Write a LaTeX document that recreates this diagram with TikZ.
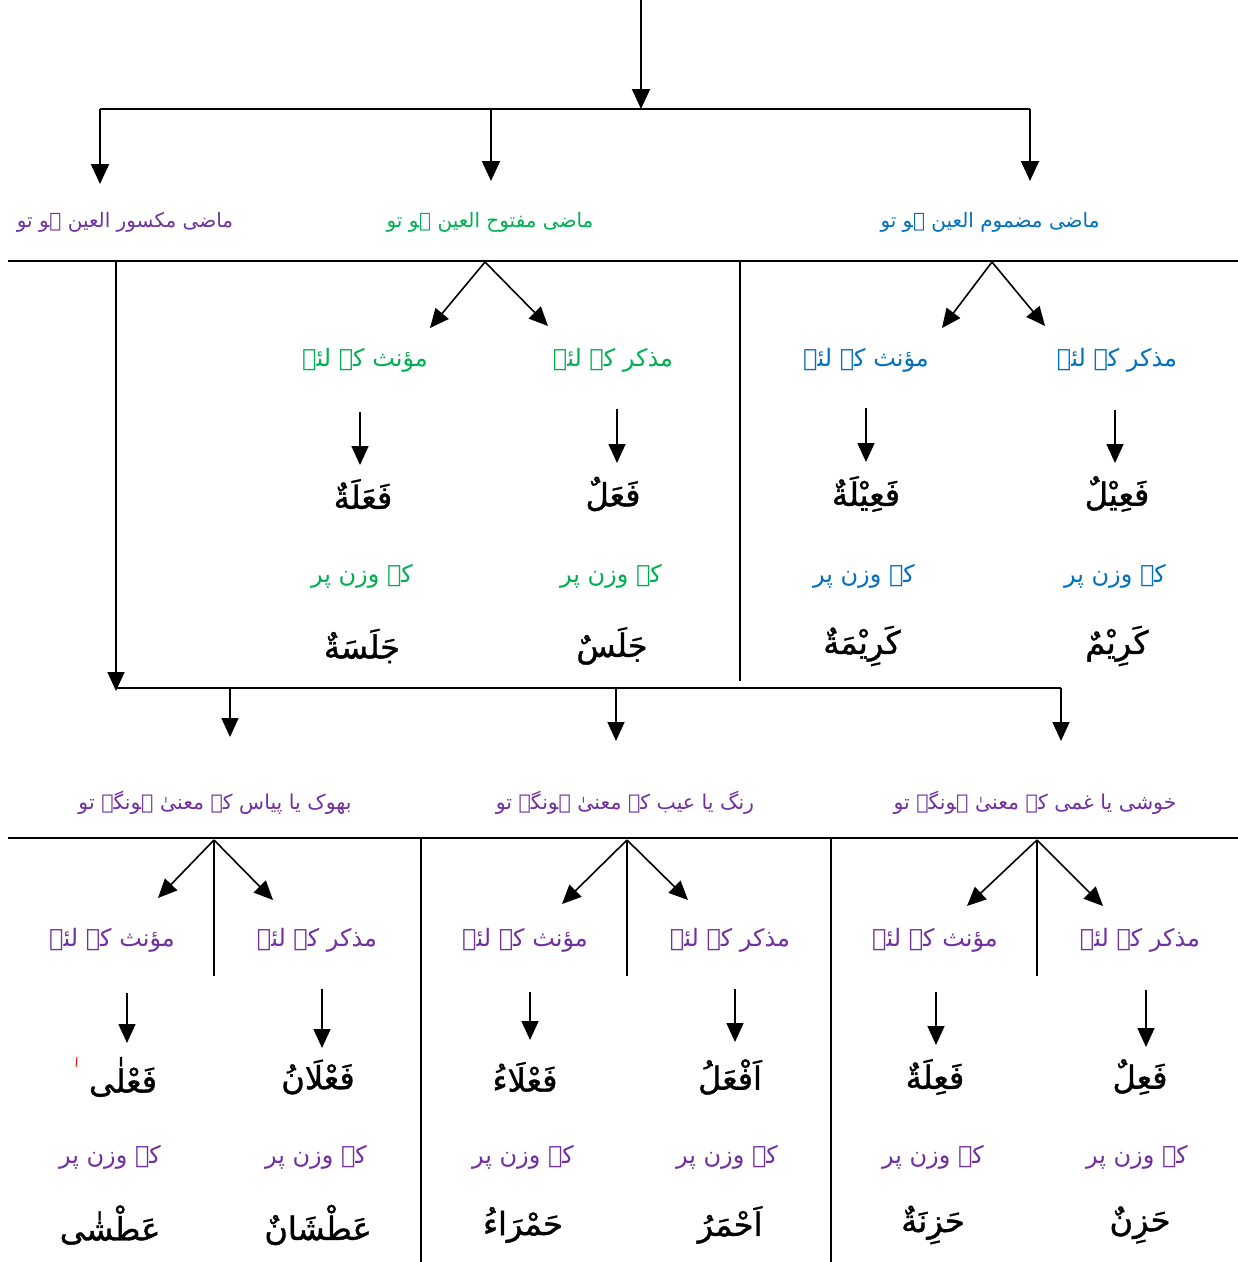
\documentclass[tikz,border=0pt]{standalone}
\usepackage{fontspec}
\usetikzlibrary{arrows.meta}
\newfontfamily\arabicfont[Script=Arabic]{DejaVu Sans}
\newfontfamily\waznfont[Script=Arabic,FakeBold=1.2]{DejaVu Sans}
\TeXXeTstate=1
\definecolor{urdupurple}{HTML}{7030A0}
\definecolor{urdugreen}{HTML}{00B050}
\definecolor{urdublue}{HTML}{0070C0}
\newcommand{\rl}[1]{\beginR #1\endR}

\tikzset{
  headtext/.style={font=\arabicfont\fontsize{20}{24}\selectfont, inner sep=0pt},
  subtext/.style={font=\arabicfont\fontsize{24}{28}\selectfont, inner sep=0pt},
  ontext/.style={font=\arabicfont\fontsize{24}{28}\selectfont, inner sep=0pt},
  wazntext/.style={font=\waznfont\fontsize{32}{38}\selectfont, inner sep=0pt, text=black},
  bartext/.style={font=\arabicfont\fontsize{20.5}{24}\selectfont, inner sep=0pt},
  rule/.style={line width=2.4pt, black},
  stem/.style={line width=1.8pt, black},
  arr/.style={line width=1.6pt, black, -{Triangle[length=19pt,width=17pt]}},
  bigarr/.style={line width=2pt, black, -{Triangle[length=20pt,width=18pt]}},
}

\begin{document}
\begin{tikzpicture}[x=1pt,y=-1pt]
\useasboundingbox (0,0) rectangle (1238,1262);

% ---------------- upper part ----------------
\coordinate (src) at (641,0);
\coordinate (hub) at (641,109);
\coordinate (hubL) at (100,109);
\coordinate (hubM) at (491,109);
\coordinate (hubR) at (1030,109);
\coordinate (inL) at (100,184);
\coordinate (inM) at (491,181);
\coordinate (inR) at (1030,181);

\draw[bigarr] (src) -- (hub);
\draw[rule] (hubL) -- (hubR);
\draw[bigarr] (hubL) -- (inL);
\draw[bigarr] (hubM) -- (inM);
\draw[bigarr] (hubR) -- (inR);

\node[headtext, text=urdupurple] (hKasr) at (125,222) {\rl{ماضی مکسور العین ہو تو}};
\node[headtext, text=urdugreen]  (hFath) at (490,222) {\rl{ماضی مفتوح العین ہو تو}};
\node[headtext, text=urdublue]   (hDamm) at (990,222) {\rl{ماضی مضموم العین ہو تو}};

\coordinate (ruleAL) at (8,261);
\coordinate (ruleAR) at (1238,261);
\draw[rule] (ruleAL) -- (ruleAR);

\coordinate (divAt) at (740,261);
\coordinate (divAb) at (740,681);
\draw[stem] (divAt) -- (divAb);

% split of the fath and damm columns
\coordinate (apexM) at (485,262);
\coordinate (apexR) at (992,262);
\coordinate (tipMF) at (430,328);
\coordinate (tipMM) at (548,326);
\coordinate (tipRF) at (942,328);
\coordinate (tipRM) at (1045,326);
\draw[arr] (apexM) -- (tipMF);
\draw[arr] (apexM) -- (tipMM);
\draw[arr] (apexR) -- (tipRF);
\draw[arr] (apexR) -- (tipRM);

\node[subtext, text=urdugreen] (gF) at (365,360) {\rl{مؤنث کے لئے}};
\node[subtext, text=urdugreen] (gM) at (613,360) {\rl{مذکر کے لئے}};
\node[subtext, text=urdublue]  (bF) at (866,360) {\rl{مؤنث کے لئے}};
\node[subtext, text=urdublue]  (bM) at (1117,360) {\rl{مذکر کے لئے}};

\coordinate (gFa) at (360,412); \coordinate (gFb) at (360,465);
\coordinate (gMa) at (617,409); \coordinate (gMb) at (617,463);
\coordinate (bFa) at (866,408); \coordinate (bFb) at (866,462);
\coordinate (bMa) at (1115,410); \coordinate (bMb) at (1115,463);
\draw[arr] (gFa) -- (gFb);
\draw[arr] (gMa) -- (gMb);
\draw[arr] (bFa) -- (bFb);
\draw[arr] (bMa) -- (bMb);

\node[wazntext] (wgF) at (363,494) {\rl{فَعَلَةٌ}};
\node[wazntext] (wgM) at (613,494) {\rl{فَعَلٌ}};
\node[wazntext] (wbF) at (866,494) {\rl{فَعِيْلَةٌ}};
\node[wazntext] (wbM) at (1117,494) {\rl{فَعِيْلٌ}};

\node[ontext, text=urdugreen] (kgF) at (362,576) {\rl{کے وزن پر}};
\node[ontext, text=urdugreen] (kgM) at (611,576) {\rl{کے وزن پر}};
\node[ontext, text=urdublue]  (kbF) at (864,576) {\rl{کے وزن پر}};
\node[ontext, text=urdublue]  (kbM) at (1115,576) {\rl{کے وزن پر}};

\node[wazntext] (egF) at (362,646) {\rl{جَلَسَةٌ}};
\node[wazntext] (egM) at (612,646) {\rl{جَلَسٌ}};
\node[wazntext] (ebF) at (862,646) {\rl{كَرِيْمَةٌ}};
\node[wazntext] (ebM) at (1117,646) {\rl{كَرِيْمٌ}};

% ---------------- link from the kasr column ----------------
\coordinate (kasrTop) at (116,262);
\coordinate (kasrEnd) at (116,691);
\coordinate (barL) at (116,688);
\coordinate (barR) at (1061,688);
\draw[arr] (kasrTop) -- (kasrEnd);
\draw[stem] (barL) -- (barR);

\coordinate (dropA) at (230,688); \coordinate (dropAe) at (230,737);
\coordinate (dropB) at (616,688); \coordinate (dropBe) at (616,741);
\coordinate (dropC) at (1061,688); \coordinate (dropCe) at (1061,741);
\draw[arr] (dropA) -- (dropAe);
\draw[arr] (dropB) -- (dropBe);
\draw[arr] (dropC) -- (dropCe);

\node[bartext, text=urdupurple] (hHunger) at (215,803) {\rl{بھوک یا پیاس کے معنیٰ ہونگے تو}};
\node[bartext, text=urdupurple] (hColour) at (625,803) {\rl{رنگ یا عیب کے معنیٰ ہونگے تو}};
\node[bartext, text=urdupurple] (hJoy)    at (1035,803) {\rl{خوشی یا غمی کے معنیٰ ہونگے تو}};

\coordinate (ruleBL) at (8,838);
\coordinate (ruleBR) at (1238,838);
\draw[rule] (ruleBL) -- (ruleBR);

\coordinate (divBt) at (421,838); \coordinate (divBb) at (421,1262);
\coordinate (divCt) at (831,838); \coordinate (divCb) at (831,1262);
\draw[stem] (divBt) -- (divBb);
\draw[stem] (divCt) -- (divCb);

\coordinate (apexA) at (214,840); \coordinate (stemAb) at (214,976);
\coordinate (apexB) at (627,840); \coordinate (stemBb) at (627,976);
\coordinate (apexC) at (1037,840); \coordinate (stemCb) at (1037,976);
\draw[stem] (apexA) -- (stemAb);
\draw[stem] (apexB) -- (stemBb);
\draw[stem] (apexC) -- (stemCb);

\coordinate (tipAF) at (158,898); \coordinate (tipAM) at (273,900);
\coordinate (tipBF) at (562,904); \coordinate (tipBM) at (688,900);
\coordinate (tipCF) at (967,906); \coordinate (tipCM) at (1103,906);
\draw[arr] (apexA) -- (tipAF);
\draw[arr] (apexA) -- (tipAM);
\draw[arr] (apexB) -- (tipBF);
\draw[arr] (apexB) -- (tipBM);
\draw[arr] (apexC) -- (tipCF);
\draw[arr] (apexC) -- (tipCM);

\node[subtext, text=urdupurple] (aF) at (112,940) {\rl{مؤنث کے لئے}};
\node[subtext, text=urdupurple] (aM) at (317,940) {\rl{مذکر کے لئے}};
\node[subtext, text=urdupurple] (cF) at (525,940) {\rl{مؤنث کے لئے}};
\node[subtext, text=urdupurple] (cM) at (730,940) {\rl{مذکر کے لئے}};
\node[subtext, text=urdupurple] (jF) at (935,940) {\rl{مؤنث کے لئے}};
\node[subtext, text=urdupurple] (jM) at (1140,940) {\rl{مذکر کے لئے}};

\coordinate (aFa) at (127,993); \coordinate (aFb) at (127,1043);
\coordinate (aMa) at (322,989); \coordinate (aMb) at (322,1048);
\coordinate (cFa) at (530,992); \coordinate (cFb) at (530,1040);
\coordinate (cMa) at (735,989); \coordinate (cMb) at (735,1042);
\coordinate (jFa) at (936,992); \coordinate (jFb) at (936,1045);
\coordinate (jMa) at (1146,990); \coordinate (jMb) at (1146,1047);
\draw[arr] (aFa) -- (aFb);
\draw[arr] (aMa) -- (aMb);
\draw[arr] (cFa) -- (cFb);
\draw[arr] (cMa) -- (cMb);
\draw[arr] (jFa) -- (jFb);
\draw[arr] (jMa) -- (jMb);

\node[wazntext] (waF) at (123,1077) {\rl{فَعْلٰی}};
\node[wazntext] (waM) at (318,1077) {\rl{فَعْلَانُ}};
\node[wazntext] (wcF) at (525,1077) {\rl{فَعْلَاءُ}};
\node[wazntext] (wcM) at (730,1077) {\rl{اَفْعَلُ}};
\node[wazntext] (wjF) at (935,1077) {\rl{فَعِلَةٌ}};
\node[wazntext] (wjM) at (1140,1077) {\rl{فَعِلٌ}};

% small red stroke beside the first weight
\coordinate (tickA) at (77,1057); \coordinate (tickB) at (76,1067);
\draw[red, line width=1pt] (tickA) -- (tickB);

\node[ontext, text=urdupurple] (kaF) at (110,1157) {\rl{کے وزن پر}};
\node[ontext, text=urdupurple] (kaM) at (316,1157) {\rl{کے وزن پر}};
\node[ontext, text=urdupurple] (kcF) at (523,1157) {\rl{کے وزن پر}};
\node[ontext, text=urdupurple] (kcM) at (727,1157) {\rl{کے وزن پر}};
\node[ontext, text=urdupurple] (kjF) at (933,1157) {\rl{کے وزن پر}};
\node[ontext, text=urdupurple] (kjM) at (1137,1157) {\rl{کے وزن پر}};

\node[wazntext] (eaF) at (110,1225) {\rl{عَطْشٰی}};
\node[wazntext] (eaM) at (318,1225) {\rl{عَطْشَانٌ}};
\node[wazntext] (ecF) at (523,1225) {\rl{حَمْرَاءُ}};
\node[wazntext] (ecM) at (730,1225) {\rl{اَحْمَرُ}};
\node[wazntext] (ejF) at (933,1225) {\rl{حَزِنَةٌ}};
\node[wazntext] (ejM) at (1140,1225) {\rl{حَزِنٌ}};
\end{tikzpicture}
\end{document}
